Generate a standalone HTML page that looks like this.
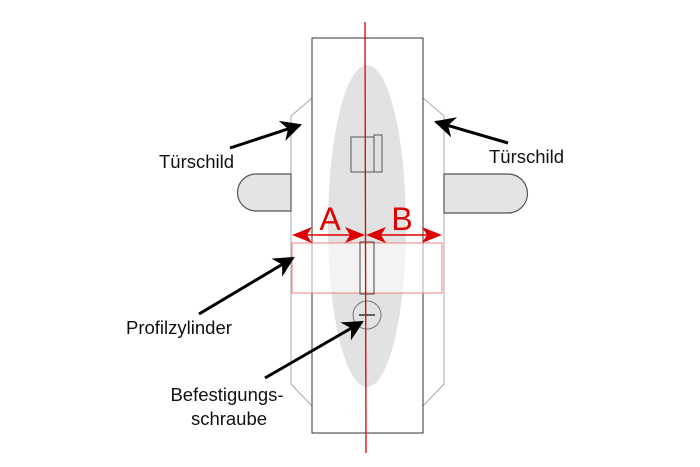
<!DOCTYPE html>
<html><head><meta charset="utf-8"><style>
html,body{margin:0;padding:0;background:#fff;}
svg{display:block;}
text{font-family:"Liberation Sans",Arial,sans-serif;fill:#111;}
</style></head><body>
<svg width="700" height="467" viewBox="0 0 700 467" xmlns="http://www.w3.org/2000/svg">
<defs>
<marker id="ah" viewBox="0 0 10 10" refX="9" refY="5" markerWidth="8.5" markerHeight="7" orient="auto" markerUnits="strokeWidth">
<path d="M0,0 L10,5 L0,10 L3,5 z" fill="#000"/></marker>
</defs>
<polygon points="312,98 291,116 291,384 312,406" fill="#fff" stroke="#aaa" stroke-width="1"/>
<polygon points="423,98 444,116 444,384 423,406" fill="#fff" stroke="#aaa" stroke-width="1"/>
<path d="M291,174 L256,174 A18.5,18.5 0 0 0 256,211 L291,211 Z" fill="#e4e4e4" stroke="#555" stroke-width="1.2"/>
<path d="M444,174 L508,174 A19.5,19.5 0 0 1 508,213 L444,213 Z" fill="#e4e4e4" stroke="#555" stroke-width="1.2"/>
<rect x="312" y="38" width="111" height="395" fill="#fff" stroke="#333" stroke-width="1"/>
<ellipse cx="367" cy="226" rx="39" ry="161" fill="#e2e2e2"/>
<rect x="351" y="137" width="23" height="35" fill="none" stroke="#555" stroke-width="1"/>
<rect x="374" y="135" width="8" height="37" fill="none" stroke="#555" stroke-width="1"/>
<rect x="292" y="243" width="150" height="50" fill="rgba(255,255,255,0.6)" stroke="#f08080" stroke-width="1"/>
<rect x="360" y="242" width="14" height="52" fill="none" stroke="#444" stroke-width="1"/>
<circle cx="367" cy="315" r="14" fill="none" stroke="#777" stroke-width="1"/>
<line x1="359" y1="315" x2="375" y2="315" stroke="#333" stroke-width="1.5"/>
<line x1="365" y1="22" x2="366" y2="453" stroke="#d00" stroke-width="1.3"/>
<g stroke="#d00" stroke-width="1.5" fill="#d00">
<line x1="296" y1="235" x2="361" y2="235"/>
<line x1="369" y1="235" x2="438" y2="235"/>
<polygon points="292,235 312,227 307,235 312,243" stroke="none"/>
<polygon points="365,235 345,227 350,235 345,243" stroke="none"/>
<polygon points="366,235 386,227 381,235 386,243" stroke="none"/>
<polygon points="442,235 422,227 427,235 422,243" stroke="none"/>
</g>
<text x="330" y="230" font-size="32" text-anchor="middle" style="fill:#d00">A</text>
<text x="402" y="230" font-size="32" text-anchor="middle" style="fill:#d00">B</text>
<g stroke="#000" stroke-width="3" fill="none">
<line x1="230" y1="148" x2="300" y2="125" marker-end="url(#ah)"/>
<line x1="508" y1="143" x2="436" y2="122" marker-end="url(#ah)"/>
<line x1="199" y1="314" x2="293" y2="258" marker-end="url(#ah)"/>
<line x1="265" y1="378" x2="362" y2="322" marker-end="url(#ah)"/>
</g>
<text x="159" y="168" font-size="18.5">Türschild</text>
<text x="489" y="163" font-size="18.5">Türschild</text>
<text x="126" y="334" font-size="18.5">Profilzylinder</text>
<text x="227" y="401" font-size="18.5" text-anchor="middle">Befestigungs-</text>
<text x="229" y="425" font-size="18.5" text-anchor="middle">schraube</text>
</svg>
</body></html>
